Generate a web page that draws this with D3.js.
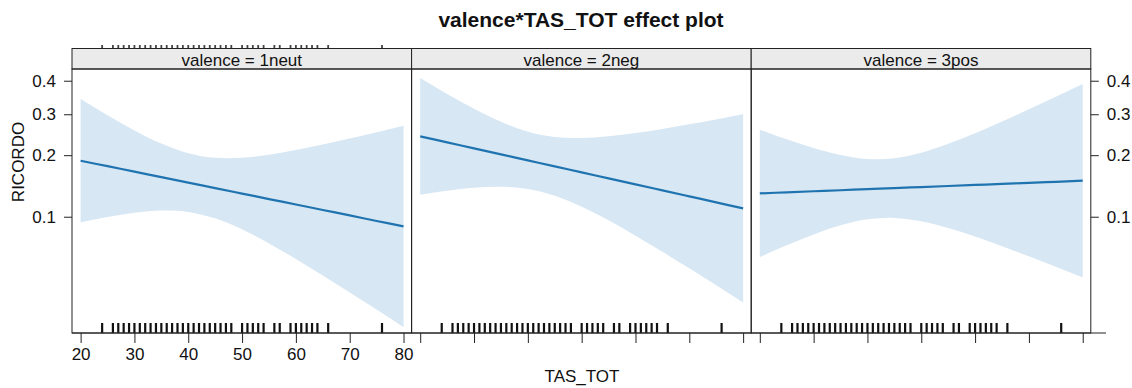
<!DOCTYPE html>
<html>
<head>
<meta charset="utf-8">
<script src="https://cdn.jsdelivr.net/npm/d3@7"></script>
<style>
  html, body { margin: 0; padding: 0; background: #fff; }
  svg { display: block; font-family: "Liberation Sans", Arial, sans-serif; }
</style>
</head>
<body>
<svg id="chart" width="1132" height="388"></svg>
<script>
// Effect of TAS_TOT on RICORDO, by valence (fitted probability with 95% band)
const panels = ["valence = 1neut", "valence = 2neg", "valence = 3pos"];
const tas = [20, 25, 30, 35, 40, 45, 50, 55, 60, 65, 70, 75, 80];

const neutFit   = [0.1886, 0.1778, 0.1676, 0.1577, 0.1484, 0.1394, 0.1310, 0.1230, 0.1155, 0.1083, 0.1016, 0.0951, 0.0891];
const neutLower = [0.0935, 0.0996, 0.1047, 0.1075, 0.1059, 0.0981, 0.0860, 0.0725, 0.0599, 0.0488, 0.0394, 0.0317, 0.0253];
const neutUpper = [0.3438, 0.2975, 0.2573, 0.2255, 0.2041, 0.1944, 0.1945, 0.2010, 0.2110, 0.2234, 0.2374, 0.2527, 0.2694];

const negFit   = [0.2427, 0.2284, 0.2148, 0.2017, 0.1893, 0.1774, 0.1662, 0.1555, 0.1454, 0.1359, 0.1269, 0.1184, 0.1103];
const negLower = [0.1293, 0.1352, 0.1398, 0.1414, 0.1381, 0.1279, 0.1126, 0.0958, 0.0797, 0.0654, 0.0533, 0.0431, 0.0347];
const negUpper = [0.4086, 0.3591, 0.3153, 0.2794, 0.2540, 0.2410, 0.2385, 0.2427, 0.2506, 0.2610, 0.2729, 0.2858, 0.2998];

const posFit   = [0.1313, 0.1329, 0.1345, 0.1361, 0.1378, 0.1394, 0.1411, 0.1428, 0.1445, 0.1462, 0.1480, 0.1497, 0.1516];
const posLower = [0.0613, 0.0708, 0.0809, 0.0903, 0.0970, 0.0986, 0.0947, 0.0873, 0.0788, 0.0701, 0.0619, 0.0544, 0.0476];
const posUpper = [0.2591, 0.2356, 0.2154, 0.2003, 0.1920, 0.1936, 0.2052, 0.2249, 0.2503, 0.2802, 0.3138, 0.3504, 0.3896];

// observed TAS_TOT values shown as a rug
const rugValues = [24, 26, 27, 28, 29, 30, 31, 32, 33, 34, 35, 36, 37, 38, 39, 40, 41, 42, 43, 44, 45, 46, 47, 48,
                   50, 51, 52, 53, 54, 56, 57, 59, 60, 61, 62, 63, 64, 66, 76];

const xTicks = [20, 30, 40, 50, 60, 70, 80];
const yTicks = [0.1, 0.2, 0.3, 0.4];
const yTickLabels = ["0.1", "0.2", "0.3", "0.4"];

const series = [
  { fit: neutFit, lower: neutLower, upper: neutUpper },
  { fit: negFit,  lower: negLower,  upper: negUpper },
  { fit: posFit,  lower: posLower,  upper: posUpper }
];

const lineColor = "#1f74b0";
const bandColor = "#d7e7f4";
const stripFill = "#ebebeb";

const svg = d3.select("#chart");
const panelLeft = 72, panelW = 339.6, stripTop = 48.5, panelTop = 69, panelBottom = 333;

const logit = p => Math.log(p / (1 - p));
const yLogit = d3.scaleLinear().domain([-3.729, -0.251]).range([panelBottom, panelTop]);
const y = p => yLogit(logit(p));
const x = d3.scaleLinear().domain([18.4, 81.5]).range([0, panelW]);

// title
svg.append("text")
  .attr("x", 581).attr("y", 27)
  .attr("text-anchor", "middle")
  .style("font-size", "21px").style("font-weight", "bold")
  .attr("fill", "#111")
  .text("valence*TAS_TOT effect plot");

panels.forEach((label, i) => {
  const g = svg.append("g").attr("transform", `translate(${panelLeft + i * panelW},0)`);
  const s = series[i];
  const pts = tas.map((t, k) => ({ t, fit: s.fit[k], lo: s.lower[k], hi: s.upper[k] }));

  const clipId = "clip" + i;
  g.append("clipPath").attr("id", clipId)
    .append("rect").attr("x", 0).attr("y", panelTop).attr("width", panelW).attr("height", panelBottom - panelTop);
  const body = g.append("g").attr("clip-path", `url(#${clipId})`);

  body.append("path")
    .datum(pts)
    .attr("fill", bandColor)
    .attr("d", d3.area()
      .curve(d3.curveCatmullRom)
      .x(d => x(d.t)).y0(d => y(d.lo)).y1(d => y(d.hi)));

  body.append("path")
    .datum(pts)
    .attr("fill", "none")
    .attr("stroke", lineColor)
    .attr("stroke-width", 2.2)
    .attr("d", d3.line().curve(d3.curveCatmullRom).x(d => x(d.t)).y(d => y(d.fit)));

  // rug
  body.selectAll("line.rug").data(rugValues).enter().append("line")
    .attr("x1", d => x(d)).attr("x2", d => x(d))
    .attr("y1", panelBottom - 10).attr("y2", panelBottom)
    .attr("stroke", "#111").attr("stroke-width", 2.2);

  // bottom axis ticks (labels on the first panel only)
  const ax = g.append("g").attr("transform", `translate(0,${panelBottom})`)
    .call(d3.axisBottom(x).tickValues(xTicks).tickSize(10).tickPadding(5)
      .tickFormat(i === 0 ? d3.format("d") : () => ""));
  ax.select(".domain").remove();
  ax.selectAll("line").attr("stroke", "#222");
  ax.selectAll("text").style("font-size", "17px").attr("fill", "#111")
    .style("font-family", "Liberation Sans, Arial, sans-serif");

  // panel frame and strip
  g.append("rect").attr("x", 0).attr("y", stripTop).attr("width", panelW).attr("height", panelTop - stripTop)
    .attr("fill", stripFill).attr("stroke", "#222").attr("stroke-width", 1);
  g.append("rect").attr("x", 0).attr("y", panelTop).attr("width", panelW).attr("height", panelBottom - panelTop)
    .attr("fill", "none").attr("stroke", "#222").attr("stroke-width", 1);
  g.append("text")
    .attr("x", panelW / 2).attr("y", 66)
    .attr("text-anchor", "middle")
    .style("font-size", "17px").attr("fill", "#111")
    .text(label);
});

// short rug echo just above the first strip
const echo = svg.append("g").attr("transform", `translate(${panelLeft},0)`);
echo.selectAll("line").data(rugValues).enter().append("line")
  .attr("x1", d => x(d)).attr("x2", d => x(d))
  .attr("y1", 45).attr("y2", 48)
  .attr("stroke", "#444").attr("stroke-width", 1.8);

// baseline under all panels
svg.append("line")
  .attr("x1", panelLeft).attr("x2", 1106)
  .attr("y1", panelBottom).attr("y2", panelBottom)
  .attr("stroke", "#222");

// y axes: left and right, logit scale labelled in probabilities
const yLeft = svg.append("g").attr("transform", `translate(${panelLeft},0)`)
  .call(d3.axisLeft(yLogit).tickValues(yTicks.map(logit)).tickSize(8).tickPadding(8)
    .tickFormat((d, i) => yTickLabels[i]));
const yRight = svg.append("g").attr("transform", `translate(${panelLeft + 3 * panelW},0)`)
  .call(d3.axisRight(yLogit).tickValues(yTicks.map(logit)).tickSize(8).tickPadding(8)
    .tickFormat((d, i) => yTickLabels[i]));
[yLeft, yRight].forEach(a => {
  a.select(".domain").remove();
  a.selectAll("line").attr("stroke", "#222");
  a.selectAll("text").style("font-size", "17px").attr("fill", "#111")
    .style("font-family", "Liberation Sans, Arial, sans-serif");
});

// axis titles
svg.append("text")
  .attr("x", 582).attr("y", 382)
  .attr("text-anchor", "middle")
  .style("font-size", "17px").attr("fill", "#111")
  .text("TAS_TOT");

svg.append("text")
  .attr("transform", "translate(24,162) rotate(-90)")
  .attr("text-anchor", "middle")
  .style("font-size", "17px").attr("fill", "#111")
  .text("RICORDO");
</script>
</body>
</html>
